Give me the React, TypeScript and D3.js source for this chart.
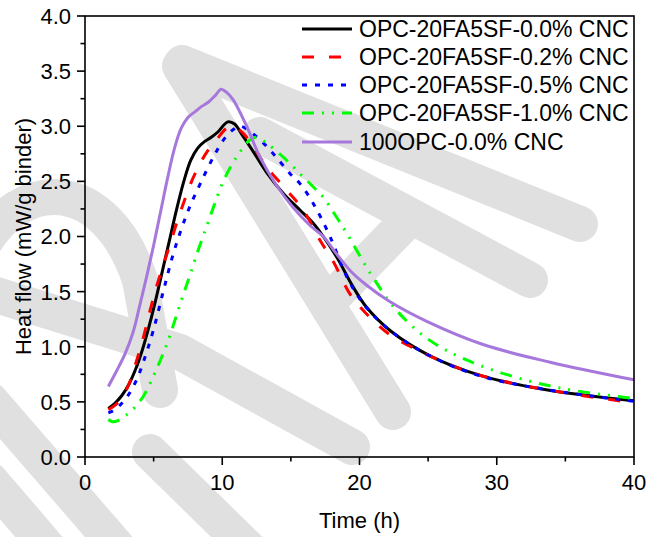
import React from "react";
import * as d3 from "d3";

const black: [number, number][] = [[1.7,0.44],[2.2,0.49],[2.7,0.56],[3.2,0.66],[3.7,0.8],[4.2,0.98],[4.7,1.2],[5.2,1.45],[5.7,1.72],[6.2,1.99],[6.7,2.26],[7.2,2.5],[7.7,2.69],[8.2,2.8],[8.7,2.86],[9.2,2.9],[9.7,2.95],[10.4,3.04],[10.9,3.02],[11.4,2.93],[12.26,2.77],[13.24,2.58],[14.45,2.39],[15.66,2.24],[16.63,2.12],[17.36,2.0],[18.4,1.8],[19.5,1.55],[20.5,1.36],[22.2,1.15],[25.1,0.92],[28.8,0.74],[33.6,0.61],[40,0.51]];
const red: [number, number][] = [[1.7,0.43],[2.2,0.47],[2.7,0.54],[3.2,0.66],[3.7,0.85],[4.2,1.06],[4.7,1.31],[5.2,1.54],[5.7,1.74],[6.2,1.93],[6.7,2.13],[7.2,2.31],[7.7,2.48],[8.3,2.64],[8.9,2.77],[9.6,2.88],[10.3,2.98],[10.8,3.0],[11.5,2.94],[12.26,2.815],[13.24,2.63],[14.7,2.42],[15.9,2.24],[17.1,1.97],[18.1,1.77],[19.3,1.48],[20.5,1.3],[22.2,1.11],[24.4,0.96],[26.35,0.85],[28.3,0.76],[30.7,0.68],[33.2,0.62],[36.1,0.56],[40,0.49]];
const blue: [number, number][] = [[1.7,0.4],[2.2,0.43],[2.7,0.49],[3.2,0.57],[3.76,0.7],[4.3,0.88],[4.98,1.15],[5.7,1.5],[6.4,1.83],[7.0,2.06],[7.6,2.26],[8.4,2.48],[9.35,2.72],[10.08,2.875],[10.8,2.97],[11.3,3.0],[12.5,2.905],[13.72,2.75],[14.94,2.57],[15.66,2.48],[16.63,2.3],[17.85,2.0],[19.07,1.635],[20.28,1.39],[22.2,1.15],[25.1,0.92],[28.8,0.735],[33.6,0.612],[40,0.505]];
const green: [number, number][] = [[1.7,0.34],[2.0,0.32],[2.4,0.33],[3.0,0.38],[3.7,0.46],[4.3,0.56],[4.9,0.71],[5.5,0.88],[6.07,1.06],[6.6,1.26],[7.1,1.45],[7.65,1.65],[8.2,1.86],[8.8,2.07],[9.4,2.28],[10.0,2.48],[10.6,2.63],[11.2,2.75],[12.0,2.875],[12.5,2.9],[13.24,2.845],[14.45,2.72],[15.66,2.57],[16.88,2.42],[17.4,2.35],[18.2,2.2],[19.07,2.03],[20.77,1.67],[22.7,1.33],[25.1,1.06],[27.8,0.88],[31.2,0.73],[34.85,0.62],[40,0.53]];
const purple: [number, number][] = [[1.7,0.64],[2.3,0.78],[2.9,0.93],[3.5,1.13],[4.0,1.38],[4.5,1.64],[5.0,1.92],[5.5,2.22],[6.0,2.52],[6.5,2.79],[7.0,2.98],[7.5,3.08],[8.0,3.13],[8.5,3.18],[9.0,3.22],[9.5,3.28],[9.9,3.335],[10.3,3.31],[10.8,3.24],[11.78,3.0],[12.75,2.72],[13.97,2.46],[15.18,2.26],[16.4,2.1],[17.36,2.0],[18.34,1.84],[19.4,1.68],[20.5,1.56],[22.2,1.41],[24.9,1.23],[29.0,1.02],[33.9,0.86],[40,0.7]];

const seriesNames = ["OPC-20FA5SF-0.0% CNC","OPC-20FA5SF-0.2% CNC","OPC-20FA5SF-0.5% CNC","OPC-20FA5SF-1.0% CNC","100OPC-0.0% CNC"];
const seriesData = [black, red, blue, green, purple];
const seriesColors = ["#000000","#ff0000","#0000ff","#00ff00","#a678dc"];
const seriesDash = ["none","12,15","5,8","12,8,2,8,2,8","none"];

const xMajor = [0,10,20,30,40];
const xMinor = [5,15,25,35];
const yMajor = [0,0.5,1.0,1.5,2.0,2.5,3.0,3.5,4.0];
const yMinor = [0.25,0.75,1.25,1.75,2.25,2.75,3.25,3.75];

// decorative watermark bands (pixel paths)
const watermark = [
  "M180,66 L393,412",
  "M182,63 L580,224",
  "M260,135 L530,280",
  "M337,293 L403,225",
  "M-20,250 C20,175 105,175 140,280 L160,390",
  "M-20,290 L180,352 L352,447",
  "M-10,400 L120,550",
  "M-10,480 L50,550",
  "M150,452 L250,550",
];

export default function App() {
  const L = 85, R = 634, T = 16, B = 457;
  const x = d3.scaleLinear().domain([0, 40]).range([L, R]);
  const y = d3.scaleLinear().domain([0, 4]).range([B, T]);
  const line = d3.line<[number, number]>().x(d => x(d[0])).y(d => y(d[1])).curve(d3.curveCatmullRom.alpha(0.5));
  const font = "'Liberation Sans', Arial, sans-serif";
  const legendY = [29, 57, 85, 113, 142];
  return (
    <svg width={648} height={537} style={{ position: "absolute", left: 0, top: 0, background: "#fff" }} fontFamily={font}>
      <rect x={0} y={0} width={648} height={537} fill="#fff" />
      <g stroke="#e0e0e0" strokeWidth={36} strokeLinecap="round" strokeLinejoin="round" fill="none">
        {watermark.map((p, i) => <path key={i} d={p} />)}
      </g>
      {seriesData.map((s, i) => (
        <path key={i} d={line(s) || ""} fill="none" stroke={seriesColors[i]} strokeWidth={3}
          strokeDasharray={seriesDash[i] === "none" ? undefined : seriesDash[i]} />
      ))}
      <rect x={L} y={T} width={R - L} height={B - T} fill="none" stroke="#000" strokeWidth={1.6} />
      {xMajor.map(v => (
        <g key={"xm" + v}>
          <line x1={x(v)} x2={x(v)} y1={B} y2={B + 8} stroke="#000" strokeWidth={1.6} />
          <text x={x(v)} y={490} textAnchor="middle" fontSize={22}>{v}</text>
        </g>
      ))}
      {xMinor.map(v => <line key={"xn" + v} x1={x(v)} x2={x(v)} y1={B} y2={B + 4.5} stroke="#000" strokeWidth={1.6} />)}
      {yMajor.map(v => (
        <g key={"ym" + v}>
          <line x1={L - 8} x2={L} y1={y(v)} y2={y(v)} stroke="#000" strokeWidth={1.6} />
          <text x={71} y={y(v)} dy="0.36em" textAnchor="end" fontSize={22}>{v.toFixed(1)}</text>
        </g>
      ))}
      {yMinor.map(v => <line key={"yn" + v} x1={L - 4.5} x2={L} y1={y(v)} y2={y(v)} stroke="#000" strokeWidth={1.6} />)}
      <text x={(L + R) / 2} y={528} textAnchor="middle" fontSize={22}>Time (h)</text>
      <text transform={`translate(31,${(T + B) / 2}) rotate(-90)`} textAnchor="middle" fontSize={22}>Heat flow (mW/g binder)</text>
      {seriesNames.map((n, i) => (
        <g key={"lg" + i}>
          <line x1={302} x2={352} y1={legendY[i]} y2={legendY[i]} stroke={seriesColors[i]} strokeWidth={3}
            strokeDasharray={seriesDash[i] === "none" ? undefined : seriesDash[i]} />
          <text x={359} y={legendY[i]} dy="0.36em" fontSize={23}>{n}</text>
        </g>
      ))}
    </svg>
  );
}
